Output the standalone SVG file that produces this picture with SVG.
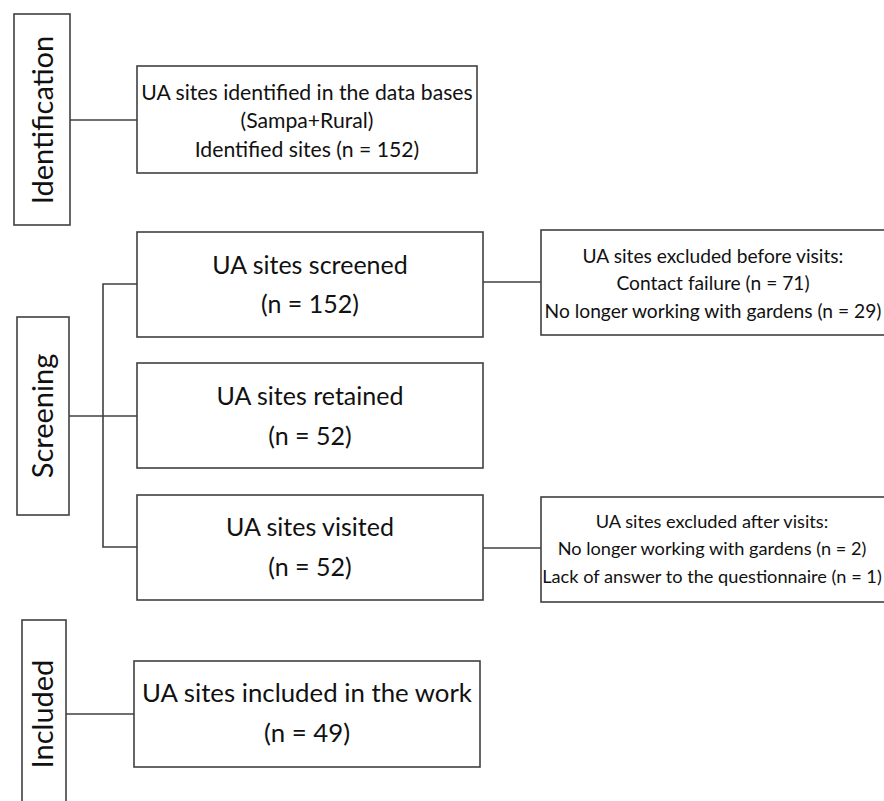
<svg xmlns="http://www.w3.org/2000/svg" width="884" height="801" viewBox="0 0 884 801">
<style>
.box{fill:#fff;stroke:#404040;stroke-width:1.6}
.ln{fill:none;stroke:#404040;stroke-width:1.6}
text{font-family:Lato,"Open Sans",sans-serif;fill:#111;text-anchor:middle}
.lab{font-size:29px}
.big{font-size:25px}
.wk{font-size:25.8px}
.mid{font-size:21.2px}
.sm{font-size:19.2px}
.sm2{font-size:18.2px}
</style>
<rect width="884" height="801" fill="#fff"/>
<g id="connectors">
<line class="ln" x1="70" y1="120" x2="137" y2="120"/>
<polyline class="ln" points="137,284 103,284 103,547 137,547"/>
<line class="ln" x1="69" y1="416" x2="137" y2="416"/>
<line class="ln" x1="483" y1="282" x2="541" y2="282"/>
<line class="ln" x1="483" y1="548" x2="541" y2="548"/>
<line class="ln" x1="66" y1="714" x2="134" y2="714"/>
</g>
<g id="identification">
<rect class="box" x="14" y="14" width="56" height="211"/>
<text class="lab" transform="translate(53,120) rotate(-90)">Identification</text>
</g>
<g id="identified">
<rect class="box" x="137" y="66" width="340" height="107"/>
<text class="mid" x="307" y="100">UA sites identified in the data bases</text>
<text class="mid" x="307" y="128">(Sampa+Rural)</text>
<text class="mid" x="307" y="157">Identified sites (n = 152)</text>
</g>
<g id="screening">
<rect class="box" x="17" y="317" width="52" height="198"/>
<text class="lab" transform="translate(53,416) rotate(-90)">Screening</text>
</g>
<g id="screened">
<rect class="box" x="137" y="232" width="346" height="105"/>
<text class="big" x="310" y="274">UA sites screened</text>
<text class="big" x="310" y="313">(n = 152)</text>
</g>
<g id="retained">
<rect class="box" x="137" y="363" width="346" height="105"/>
<text class="big" x="310" y="405">UA sites retained</text>
<text class="big" x="310" y="445">(n = 52)</text>
</g>
<g id="visited">
<rect class="box" x="137" y="495" width="346" height="105"/>
<text class="big" x="310" y="536">UA sites visited</text>
<text class="big" x="310" y="576">(n = 52)</text>
</g>
<g id="excluded-before">
<rect class="box" x="541" y="230" width="350" height="105"/>
<text class="sm" x="713" y="263">UA sites excluded before visits:</text>
<text class="sm" x="713" y="290">Contact failure (n = 71)</text>
<text class="sm" x="713" y="318">No longer working with gardens (n = 29)</text>
</g>
<g id="excluded-after">
<rect class="box" x="541" y="497" width="350" height="105"/>
<text class="sm2" x="712" y="528">UA sites excluded after visits:</text>
<text class="sm2" x="712" y="555">No longer working with gardens (n = 2)</text>
<text class="sm2" x="712" y="583">Lack of answer to the questionnaire (n = 1)</text>
</g>
<g id="included">
<rect class="box" x="22" y="620" width="44" height="200"/>
<text class="lab" transform="translate(53,714) rotate(-90)">Included</text>
</g>
<g id="included-work">
<rect class="box" x="134" y="661" width="346" height="106"/>
<text class="wk" x="307" y="702">UA sites included in the work</text>
<text class="wk" x="307" y="742">(n = 49)</text>
</g>
</svg>
